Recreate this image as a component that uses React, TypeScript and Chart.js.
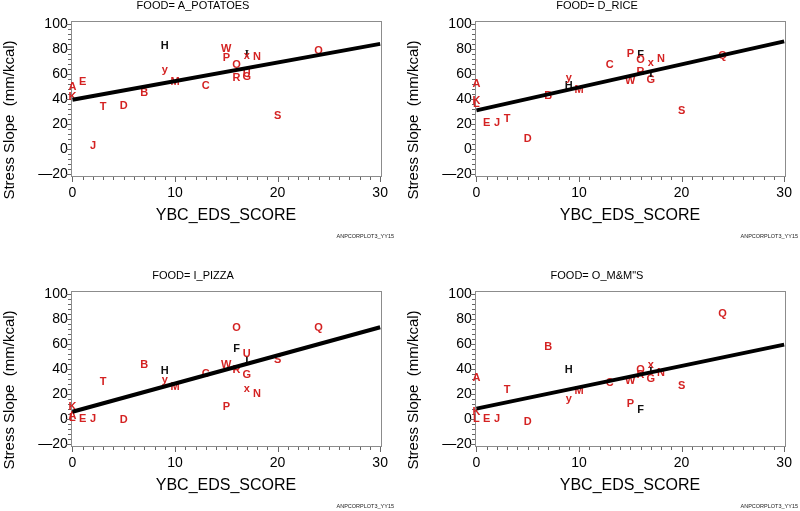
import React, { useEffect, useRef } from "react";
import { Chart, registerables } from "chart.js";
Chart.register(...registerables);

const FONT = '"Liberation Sans", Arial, sans-serif';
const RED = "#d42222";

const xTickValues = [0, 10, 20, 30];
const yTickValues = [-20, 0, 20, 40, 60, 80, 100];
const yTickLabels = ["\u201420", "0", "20", "40", "60", "80", "100"];
const xMinorStep = 1;
const yMinorStep = 4;

const subjectLetters = ["A", "B", "C", "D", "E", "F", "G", "H", "I", "J", "K", "L", "M", "N", "O", "P", "Q", "R", "S", "T", "U", "W", "x", "y"];
const subjectScores = [0, 7, 13, 5, 1, 16, 17, 9, 17, 2, 0, 0, 10, 18, 16, 15, 24, 16, 20, 3, 17, 15, 17, 9];
const blackLetters = ["F", "H", "I"];

const potatoLetters = ["A", "B", "C", "D", "E", "G", "H", "I", "J", "K", "M", "N", "O", "P", "Q", "R", "S", "T", "U", "W", "x", "y"];
const potatoValues = [49.5, 45, 50.3, 34.4, 53.5, 58, 82, 75.5, 2.6, 41.6, 53.5, 73.7, 66.8, 73, 78.7, 57, 26.5, 33.6, 60, 80, 74, 63];

const riceLetters = ["A", "B", "C", "D", "E", "F", "G", "H", "I", "J", "K", "L", "M", "N", "O", "P", "Q", "R", "S", "T", "W", "x", "y"];
const riceValues = [52.2, 42.4, 66.8, 8.5, 21.2, 75, 55, 50.3, 60, 21, 38.5, 36, 47, 72, 71.5, 76, 74, 61.5, 30.5, 23.8, 54.8, 68.9, 57];

const pizzaLetters = ["A", "L", "B", "C", "D", "E", "F", "G", "H", "I", "J", "K", "M", "N", "O", "P", "Q", "R", "S", "T", "U", "W", "x", "y"];
const pizzaValues = [3, 1, 43, 35.8, -0.8, 0, 55.7, 35.5, 38.4, 47, 0.5, 9.8, 25.7, 20.4, 72.6, 9.8, 72.6, 39.5, 47, 29.7, 52.2, 43, 24.4, 31];

const mmLetters = ["A", "B", "C", "D", "E", "F", "G", "H", "I", "J", "K", "L", "M", "N", "O", "P", "Q", "R", "S", "T", "W", "x", "y"];
const mmValues = [33.2, 58, 29.2, -2, 0, 7.2, 31.8, 39, 38, 0.5, 5.8, 0, 22.5, 36.8, 39.5, 12.5, 84, 35, 26.5, 23.6, 30.2, 43, 16.5];

const fitX = [0, 30];
const potatoFit = [39.5, 84];
const riceFit = [31, 86];
const pizzaFit = [6, 73.3];
const mmFit = [8.5, 59.5];

const panels = [
  { title: "FOOD= A_POTATOES", letters: potatoLetters, values: potatoValues, fit: potatoFit, left: 0, top: 0 },
  { title: "FOOD= D_RICE", letters: riceLetters, values: riceValues, fit: riceFit, left: 404, top: 0 },
  { title: "FOOD= I_PIZZA", letters: pizzaLetters, values: pizzaValues, fit: pizzaFit, left: 0, top: 270 },
  { title: "FOOD= O_M&M\"S", letters: mmLetters, values: mmValues, fit: mmFit, left: 404, top: 270 },
];

const CW = 396;
const CH = 241;

function scoreOf(letter: string): number {
  return subjectScores[subjectLetters.indexOf(letter)];
}

const framePlugin = {
  id: "frameAndLetters",
  beforeDatasetsDraw(chart: any) {
    const ctx = chart.ctx;
    const { left, right, top, bottom } = chart.chartArea;
    const xs = chart.scales.x;
    const ys = chart.scales.y;
    ctx.save();
    ctx.strokeStyle = "#8c8c8c";
    ctx.lineWidth = 1;
    ctx.strokeRect(Math.round(left) + 0.5, Math.round(top) + 0.5, Math.round(right - left) - 1, Math.round(bottom - top) - 1);
    ctx.strokeStyle = "#666";
    ctx.beginPath();
    for (let v = Math.ceil(xs.min); v <= xs.max; v += xMinorStep) {
      const px = Math.round(xs.getPixelForValue(v)) + 0.5;
      const len = v % 10 === 0 ? 5 : 3;
      ctx.moveTo(px, Math.round(bottom));
      ctx.lineTo(px, Math.round(bottom) + len);
    }
    for (let v = Math.ceil(ys.min / yMinorStep) * yMinorStep; v <= ys.max; v += yMinorStep) {
      const py = Math.round(ys.getPixelForValue(v)) + 0.5;
      const len = v % 20 === 0 ? 5 : 3;
      ctx.moveTo(Math.round(left), py);
      ctx.lineTo(Math.round(left) - len, py);
    }
    ctx.stroke();

    const meta = chart.getDatasetMeta(0);
    const ds = chart.data.datasets[0];
    ctx.textAlign = "center";
    ctx.textBaseline = "middle";
    meta.data.forEach((el: any, i: number) => {
      const letter = ds.letters[i];
      const black = blackLetters.includes(letter);
      ctx.fillStyle = black ? "#111" : RED;
      ctx.font = letter === "I" ? 'bold 11px "Liberation Serif", serif' : `bold 11px ${FONT}`;
      ctx.fillText(letter, el.x, el.y);
    });
    ctx.restore();
  },
  afterDraw(chart: any) {
    const ctx = chart.ctx;
    const title = chart.options.plugins.panelTitle;
    ctx.save();
    ctx.fillStyle = "#000";
    ctx.textAlign = "center";
    ctx.textBaseline = "middle";
    ctx.font = `11px ${FONT}`;
    ctx.fillText(title, 193, 6);
    ctx.font = `16px ${FONT}`;
    ctx.fillText("YBC_EDS_SCORE", 226, 216);
    ctx.save();
    ctx.translate(9.5, 120);
    ctx.rotate(-Math.PI / 2);
    ctx.font = `15px ${FONT}`;
    ctx.fillText("Stress Slope  (mm/kcal)", 0, 0);
    ctx.restore();
    ctx.font = `5.5px ${FONT}`;
    ctx.textAlign = "right";
    ctx.fillStyle = "#222";
    ctx.fillText("ANPCORPLOT3_YY15", 394, 236);
    ctx.restore();
  },
};

function Panel({ cfg }: { cfg: typeof panels[number] }) {
  const ref = useRef<HTMLCanvasElement | null>(null);
  useEffect(() => {
    if (!ref.current) return;
    const chart = new Chart(ref.current, {
      type: "scatter",
      data: {
        datasets: [
          {
            type: "scatter",
            data: cfg.letters.map((l, i) => ({ x: scoreOf(l), y: cfg.values[i] })),
            letters: cfg.letters,
            pointRadius: 0,
            pointHoverRadius: 0,
          } as any,
          {
            type: "line",
            data: fitX.map((x, i) => ({ x, y: cfg.fit[i] })),
            borderColor: "#000",
            borderWidth: 4,
            pointRadius: 0,
            fill: false,
          } as any,
        ],
      },
      options: {
        responsive: false,
        animation: false,
        devicePixelRatio: 1,
        layout: { padding: { left: 0, right: CW - 381.5, top: 21, bottom: 0 } },
        plugins: {
          legend: { display: false },
          tooltip: { enabled: false },
          title: { display: false },
          panelTitle: cfg.title,
        } as any,
        scales: {
          x: {
            type: "linear",
            min: -0.17,
            max: 30.12,
            grid: { display: false, drawTicks: false },
            border: { display: false },
            afterBuildTicks: (s: any) => {
              s.ticks = xTickValues.map((v) => ({ value: v }));
            },
            afterFit: (s: any) => {
              s.height = CH - 176.7;
            },
            ticks: {
              autoSkip: false,
              maxRotation: 0,
              padding: 8,
              color: "#000",
              font: { family: FONT, size: 14 },
            },
          },
          y: {
            type: "linear",
            min: -21.8,
            max: 102.2,
            grid: { display: false, drawTicks: false },
            border: { display: false },
            afterBuildTicks: (s: any) => {
              s.ticks = yTickValues.map((v) => ({ value: v }));
            },
            afterFit: (s: any) => {
              s.width = 70.7;
            },
            ticks: {
              autoSkip: false,
              padding: 3,
              color: "#000",
              font: { family: FONT, size: 14 },
              callback: (v: any) => {
                const idx = yTickValues.indexOf(Number(v));
                return idx >= 0 ? yTickLabels[idx] : "";
              },
            },
          },
        },
      },
      plugins: [framePlugin],
    });
    return () => chart.destroy();
  }, [cfg]);
  return (
    <canvas
      ref={ref}
      width={CW}
      height={CH}
      style={{ position: "absolute", left: cfg.left, top: cfg.top, width: CW, height: CH }}
    />
  );
}

export default function App() {
  return (
    <div style={{ position: "fixed", left: 0, top: 0, width: 800, height: 511, background: "#fff", overflow: "hidden" }}>
      {panels.map((p, i) => (
        <Panel key={i} cfg={p} />
      ))}
    </div>
  );
}
